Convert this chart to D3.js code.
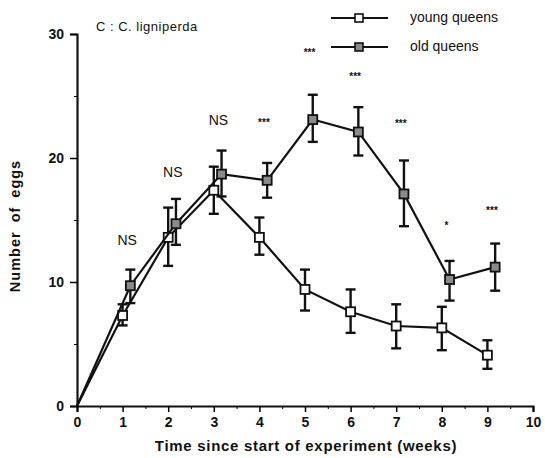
<!DOCTYPE html>
<html>
<head>
<meta charset="utf-8">
<script src="https://cdn.jsdelivr.net/npm/d3@7"></script>
<style>
  body { margin: 0; background: #fff; }
  text { font-family: "Liberation Sans", Arial, sans-serif; fill: #111; }
</style>
</head>
<body>
<div id="chart"></div>
<script>
const weeks = [0, 1, 2, 3, 4, 5, 6, 7, 8, 9]
const youngMean = [0, 7.3, 13.6, 17.4, 13.6, 9.4, 7.6, 6.45, 6.3, 4.1]
const youngLo = [0, 6.5, 11.3, 15.5, 12.2, 7.7, 5.9, 4.65, 4.5, 3.0]
const youngHi = [0, 8.2, 16.0, 19.3, 15.2, 11.0, 9.4, 8.2, 8.0, 5.3]
const oldMean = [0, 9.7, 14.7, 18.7, 18.2, 23.1, 22.1, 17.1, 10.2, 11.2]
const oldLo = [0, 8.3, 13.0, 16.9, 16.8, 21.3, 20.2, 14.5, 8.5, 9.3]
const oldHi = [0, 11.0, 16.7, 20.6, 19.6, 25.1, 24.1, 19.8, 11.7, 13.1]
// old queens are drawn a little to the right of each week
const oldShift = 0.17
const sigLabels = ['', 'NS', 'NS', 'NS', '***', '***', '***', '***', '*', '***']
const sigY = [0, 13, 18.5, 22.7, 22.6, 28.2, 26.3, 22.5, 14.3, 15.5]
const xTicks = d3.range(0, 11)
const yTicks = [0, 10, 20, 30]

const width = 545, height = 458
const margin = { top: 34, right: 12, bottom: 52, left: 77 }

const svg = d3.select('#chart').append('svg')
  .attr('width', width)
  .attr('height', height)

const x = d3.scaleLinear().domain([0, 10]).range([margin.left, 533])
const y = d3.scaleLinear().domain([0, 30]).range([406, margin.top])

// axes
const xAxis = d3.axisBottom(x).tickValues(xTicks).tickSize(6).tickPadding(5).tickFormat(d3.format('d'))
const gx = svg.append('g').attr('transform', 'translate(0,' + y(0) + ')').call(xAxis)
gx.selectAll('.tick line').attr('stroke-width', 1.5)
svg.append('g').attr('transform', 'translate(0,' + y(0) + ')')
  .call(d3.axisBottom(x).tickValues(d3.range(0.5, 10, 1)).tickSize(3).tickFormat(''))
  .call(g => g.select('.domain').remove())

const yAxis = d3.axisLeft(y).tickValues(yTicks).tickSize(7).tickPadding(6)
const gy = svg.append('g').attr('transform', 'translate(' + x(0) + ',0)').call(yAxis)
gy.selectAll('.tick line').attr('stroke-width', 1.5)
svg.append('g').attr('transform', 'translate(' + x(0) + ',0)')
  .call(d3.axisLeft(y).tickValues([5, 15, 25]).tickSize(3).tickFormat(''))
  .call(g => g.select('.domain').remove())

svg.selectAll('.domain').attr('stroke-width', 2.2).attr('stroke', '#111')
svg.selectAll('.tick text')
  .style('font-size', '14px')
  .style('font-weight', 'bold')

svg.append('text')
  .attr('x', 306).attr('y', 451)
  .attr('text-anchor', 'middle')
  .style('font-size', '15px')
  .style('font-weight', 'bold')
  .style('letter-spacing', '0.7px')
  .text('Time since start of experiment (weeks)')

svg.append('text')
  .attr('transform', 'translate(20,226) rotate(-90)')
  .attr('text-anchor', 'middle')
  .style('font-size', '14.5px')
  .style('font-weight', 'bold')
  .style('letter-spacing', '1px')
  .style('word-spacing', '4px')
  .text('Number of eggs')

svg.append('text')
  .attr('x', 96).attr('y', 31)
  .style('font-size', '13px')
  .style('letter-spacing', '0.5px')
  .text('C : C. ligniperda')

// series
const series = [
  { key: 'young', mean: youngMean, lo: youngLo, hi: youngHi, shift: 0, fill: '#fff' },
  { key: 'old', mean: oldMean, lo: oldLo, hi: oldHi, shift: oldShift, fill: '#8a8a8a' }
]

const line = d3.line()
  .x(d => x(d.w))
  .y(d => y(d.v))

series.forEach(s => {
  const pts = weeks.map((w, i) => ({
    w: i === 0 ? 0 : w + s.shift, v: s.mean[i], lo: s.lo[i], hi: s.hi[i]
  }))
  const g = svg.append('g').attr('class', s.key)

  g.append('path')
    .datum(pts)
    .attr('d', line)
    .attr('fill', 'none')
    .attr('stroke', '#111')
    .attr('stroke-width', 2.2)

  const bars = g.selectAll('.err').data(pts.slice(1)).enter().append('g')
  bars.append('line')
    .attr('x1', d => x(d.w)).attr('x2', d => x(d.w))
    .attr('y1', d => y(d.lo)).attr('y2', d => y(d.hi))
    .attr('stroke', '#111').attr('stroke-width', 2.4)
  bars.selectAll('.cap').data(d => [d.lo, d.hi].map(v => ({ w: d.w, v }))).enter()
    .append('line')
    .attr('x1', d => x(d.w) - 5).attr('x2', d => x(d.w) + 5)
    .attr('y1', d => y(d.v)).attr('y2', d => y(d.v))
    .attr('stroke', '#111').attr('stroke-width', 2.4)

  g.selectAll('rect').data(pts.slice(1)).enter().append('rect')
    .attr('x', d => x(d.w) - 4.5)
    .attr('y', d => y(d.v) - 4.5)
    .attr('width', 9).attr('height', 9)
    .attr('fill', s.fill)
    .attr('stroke', '#111')
    .attr('stroke-width', 1.8)
})

// significance labels
svg.selectAll('.sig').data(weeks.slice(1)).enter().append('text')
  .attr('x', w => x(w + 0.1))
  .attr('y', w => y(sigY[w]))
  .attr('text-anchor', 'middle')
  .style('font-size', w => sigLabels[w] === 'NS' ? '14px' : '10px')
  .style('font-weight', w => sigLabels[w] === 'NS' ? 'normal' : 'bold')
  .text(w => sigLabels[w])

// legend
const legend = svg.append('g')
const legendRows = [
  { label: 'young queens', fill: '#fff', yy: 18 },
  { label: 'old queens', fill: '#8a8a8a', yy: 47 }
]
legendRows.forEach(r => {
  legend.append('line')
    .attr('x1', 331).attr('x2', 388).attr('y1', r.yy).attr('y2', r.yy)
    .attr('stroke', '#111').attr('stroke-width', 2)
  legend.append('rect')
    .attr('x', 359 - 4).attr('y', r.yy - 4).attr('width', 8).attr('height', 8)
    .attr('fill', r.fill).attr('stroke', '#111').attr('stroke-width', 1.6)
  legend.append('text')
    .attr('x', 410).attr('y', r.yy + 4)
    .style('font-size', '14px')
    .text(r.label)
})
</script>
</body>
</html>
